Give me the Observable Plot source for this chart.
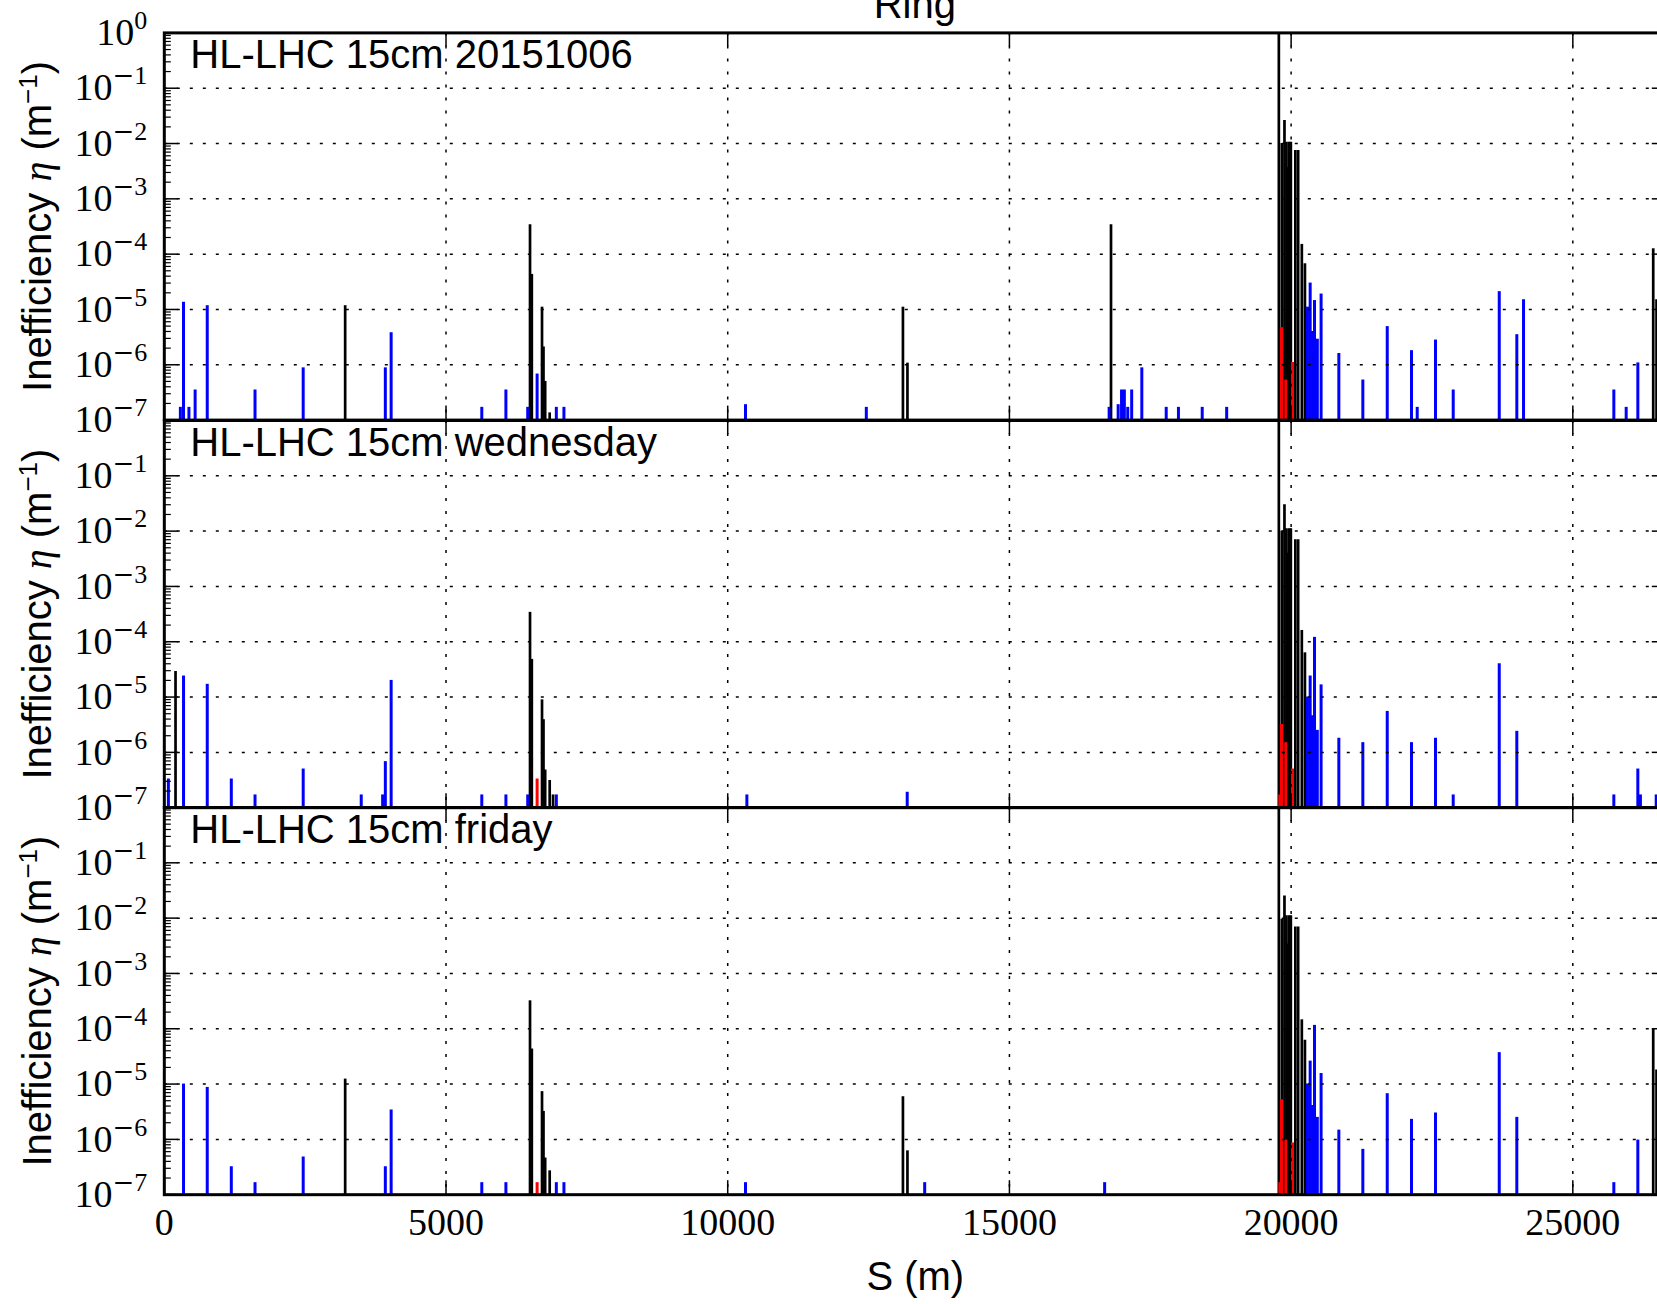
<!DOCTYPE html>
<html>
<head>
<meta charset="utf-8">
<script src="https://cdn.jsdelivr.net/npm/d3@7"></script>
<script src="https://cdn.jsdelivr.net/npm/@observablehq/plot@0.6"></script>
<style>
  html, body { margin: 0; padding: 0; overflow: hidden; background: #fff; }
  #wrap { position: relative; width: 1657px; height: 1304px; overflow: hidden; background: #fff; }
  #wrap svg { position: absolute; left: 0; }
  #title { position: absolute; top: -16px; left: 914.8px; transform: translateX(-50%);
           font-family: "Liberation Sans", Arial, sans-serif; font-size: 40px; line-height: 40px; white-space: nowrap; color: #000; }
</style>
</head>
<body>
<div id="wrap"><div id="title">Ring</div></div>
<script>
// ---------------- data ----------------
const TITLE = "Ring";
const X_LABEL = "S (m)";
const Y_LABEL = "Inefficiency η (m^-1)";
const PANEL_LABELS = ["HL-LHC 15cm 20151006", "HL-LHC 15cm wednesday", "HL-LHC 15cm friday"];
const S_DOMAIN = [0, 26658.88];
const ETA_DOMAIN = [1e-7, 1];
const S_TICKS = [0, 5000, 10000, 15000, 20000, 25000];
const ETA_TICKS = [1e-7, 1e-6, 1e-5, 1e-4, 1e-3, 1e-2, 1e-1, 1e0];

// [S (m), inefficiency] — collimators (black)
const coll_20151006 = [
  [3210, 1.17e-5],
  [6491, 3.4e-4], [6523, 4.3e-5], [6704, 1.1e-5], [6730, 2.1e-6], [6760, 5.0e-7], [6840, 1.35e-7],
  [13110, 1.1e-5], [13190, 1.07e-6],
  [16803, 3.4e-4],
  [19782, 1.0], [19835, 1.0e-2], [19882, 2.6e-2], [19918, 1.05e-2], [19941, 3.7e-3], [19968, 1.05e-2],
  [19995, 1.05e-2], [20075, 7.5e-3], [20125, 7.5e-3], [20190, 1.5e-4], [20245, 6.7e-5],
  [26427, 1.25e-4], [26486, 1.5e-5]
];
// cold losses (blue)
const cold_20151006 = [
  [285, 1.7e-7], [341, 1.35e-5], [437, 1.7e-7], [547, 3.5e-7], [762, 1.17e-5], [1610, 3.5e-7],
  [2465, 8.8e-7], [3923, 8.8e-7], [4026, 3.8e-6], [5635, 1.7e-7], [6063, 3.5e-7], [6450, 1.7e-7],
  [6617, 6.8e-7], [6958, 1.7e-7], [7093, 1.7e-7], [10316, 1.9e-7], [12460, 1.7e-7],
  [16770, 1.7e-7], [16930, 1.9e-7], [16990, 3.5e-7], [17040, 3.5e-7], [17100, 1.7e-7], [17170, 3.5e-7],
  [17350, 8.8e-7], [17783, 1.7e-7], [18000, 1.7e-7], [18422, 1.7e-7], [18856, 1.7e-7],
  [20290, 1.1e-5], [20338, 3.0e-5], [20380, 4.0e-6], [20415, 1.45e-5], [20465, 2.9e-6], [20532, 1.9e-5],
  [20847, 1.6e-6], [21273, 5.3e-7], [21706, 4.9e-6], [22137, 1.8e-6], [22238, 1.7e-7], [22563, 2.8e-6],
  [22877, 3.5e-7], [23694, 2.1e-5], [24006, 3.5e-6], [24125, 1.5e-5], [25728, 3.5e-7], [25947, 1.7e-7],
  [26154, 1.08e-6]
];
// warm losses (red)
const warm_20151006 = [
  [19830, 4.7e-6], [19905, 5.3e-7], [20025, 1.1e-6]
];

const coll_wednesday = [
  [199, 2.9e-5],
  [6491, 3.4e-4], [6523, 4.8e-5], [6704, 8.9e-6], [6730, 3.9e-6], [6760, 4.8e-7], [6840, 3.1e-7], [6900, 1.7e-7],
  [19782, 1.0], [19835, 1.0e-2], [19882, 3.0e-2], [19918, 1.1e-2], [19941, 4.0e-3], [19968, 1.1e-2],
  [19995, 1.1e-2], [20075, 7.0e-3], [20125, 7.0e-3], [20190, 1.6e-4], [20245, 6.3e-5]
];
const cold_wednesday = [
  [72, 3.3e-7], [341, 2.4e-5], [762, 1.7e-5], [1189, 3.3e-7], [1610, 1.7e-7], [2465, 5.0e-7],
  [3495, 1.7e-7], [3875, 1.7e-7], [3923, 6.8e-7], [4026, 2.0e-5], [5635, 1.7e-7], [6063, 1.7e-7],
  [6450, 1.7e-7], [6958, 1.7e-7], [10340, 1.7e-7], [13186, 1.9e-7],
  [20290, 1.0e-5], [20338, 2.4e-5], [20380, 4.6e-6], [20415, 1.2e-4], [20465, 2.5e-6], [20532, 1.66e-5],
  [20847, 1.8e-6], [21273, 1.5e-6], [21706, 5.5e-6], [22137, 1.5e-6], [22563, 1.8e-6], [22877, 1.7e-7],
  [23694, 4.0e-5], [24006, 2.4e-6], [25728, 1.7e-7], [26154, 5.0e-7], [26200, 1.7e-7], [26480, 1.7e-7]
];
const warm_wednesday = [
  [6617, 3.3e-7], [19800, 1.7e-7], [19830, 3.2e-6], [19905, 1.5e-6], [20025, 5.0e-7]
];

const coll_friday = [
  [3210, 1.23e-5],
  [6491, 3.2e-4], [6523, 4.3e-5], [6704, 7.3e-6], [6730, 3.2e-6], [6760, 4.6e-7], [6840, 2.7e-7],
  [13110, 5.9e-6], [13190, 6.2e-7],
  [19782, 1.0], [19835, 9.5e-3], [19882, 2.5e-2], [19918, 1.1e-2], [19941, 3.4e-3], [19968, 1.1e-2],
  [19995, 1.1e-2], [20075, 6.9e-3], [20125, 6.9e-3], [20190, 1.45e-4], [20245, 6.2e-5],
  [26427, 1.0e-4], [26486, 1.8e-5]
];
const cold_friday = [
  [341, 1.0e-5], [762, 8.7e-6], [1189, 3.2e-7], [1610, 1.65e-7], [2465, 4.8e-7], [3923, 3.2e-7],
  [4026, 3.4e-6], [5635, 1.65e-7], [6063, 1.65e-7], [6958, 1.65e-7], [7093, 1.65e-7], [10316, 1.65e-7],
  [13496, 1.65e-7], [16690, 1.65e-7],
  [20290, 1.0e-5], [20338, 2.6e-5], [20380, 4.1e-6], [20415, 1.15e-4], [20465, 2.5e-6], [20532, 1.55e-5],
  [20847, 1.47e-6], [21273, 6.6e-7], [21706, 6.7e-6], [22137, 2.3e-6], [22563, 3.0e-6], [23694, 3.7e-5],
  [24006, 2.5e-6], [25728, 1.65e-7], [26154, 9.7e-7]
];
const warm_friday = [
  [6617, 1.65e-7], [19800, 1.65e-7], [19830, 5.2e-6], [19905, 9.7e-7], [20025, 8.6e-7]
];

// ---------------- layout ----------------
const SANS = "'Liberation Sans', Arial, Helvetica, sans-serif";
const SERIF = "'Liberation Serif', 'Times New Roman', serif";
const ML = 163.8, MR = 30.2, INNER_W = 1502, INNER_H = 387.2;
const WIDTH = ML + INNER_W + MR;
const NS = "http://www.w3.org/2000/svg";

const minorTicks = [];
for (let k = -7; k < 0; k++) for (let m = 2; m <= 9; m++) minorTicks.push(m * Math.pow(10, k));

function rows(arr) { return arr.map(([s, v]) => ({s, v})); }

function makePanel(idx, coll, cold, warm, mt, mb, top, withX) {
  const yTicks = idx === 0 ? ETA_TICKS : ETA_TICKS.filter(d => d < 1);
  const dash = {stroke: "black", strokeWidth: 1.5, strokeDasharray: "3,10"};
  const marks = [
    Plot.ruleX(rows(coll), {x: "s", y1: ETA_DOMAIN[0], y2: "v", stroke: "black", strokeWidth: 2.7}),
    Plot.ruleX(rows(cold), {x: "s", y1: ETA_DOMAIN[0], y2: "v", stroke: "#0000ff", strokeWidth: 3}),
    Plot.ruleX(rows(warm), {x: "s", y1: ETA_DOMAIN[0], y2: "v", stroke: "#ff0000", strokeWidth: 3}),
    Plot.ruleY(ETA_TICKS.filter(d => d > ETA_DOMAIN[0] && d < ETA_DOMAIN[1]), {y: d => d, ...dash}),
    Plot.ruleX(S_TICKS.filter(d => d > 0), {x: d => d, ...dash}),
    Plot.tickX(S_TICKS, {x: d => d, insetTop: INNER_H - 14, stroke: "black", strokeWidth: 1.5}),
    Plot.tickX(S_TICKS, {x: d => d, insetBottom: INNER_H - 14, stroke: "black", strokeWidth: 1.5}),
    Plot.tickY(ETA_TICKS, {y: d => d, insetRight: INNER_W - 14, stroke: "black", strokeWidth: 1.5}),
    Plot.tickY(minorTicks, {y: d => d, insetRight: INNER_W - 7, stroke: "black", strokeWidth: 1.2}),
    Plot.tickY(ETA_TICKS, {y: d => d, insetLeft: INNER_W - 14, stroke: "black", strokeWidth: 1.5}),
    Plot.tickY(minorTicks, {y: d => d, insetLeft: INNER_W - 7, stroke: "black", strokeWidth: 1.2}),
    Plot.frame({stroke: "black", strokeWidth: 3}),
    Plot.axisY(yTicks, {anchor: "left", tickSize: 0, tickPadding: 17, label: null,
      tickFormat: d => "10^" + Math.round(Math.log10(d)), fontSize: 38, fontFamily: SERIF, fill: "black"}),
    Plot.text([PANEL_LABELS[idx]], {frameAnchor: "top-left", text: d => d, dx: 26, dy: 7, lineAnchor: "top",
      textAnchor: "start", fontSize: 40, fontFamily: SANS, fill: "black"}),
    Plot.text([Y_LABEL], {frameAnchor: "left", text: d => d, rotate: -90, dx: -126.6, lineAnchor: "middle",
      textAnchor: "middle", fontSize: 40, fontFamily: SANS, fill: "black"})
  ];
  if (withX) {
    marks.push(Plot.axisX(S_TICKS, {anchor: "bottom", tickSize: 0, tickPadding: 13, label: null,
      tickFormat: d => String(d), fontSize: 38, fontFamily: SERIF, fill: "black"}));
    marks.push(Plot.text([X_LABEL], {frameAnchor: "bottom", text: d => d, dy: 82, lineAnchor: "middle",
      textAnchor: "middle", fontSize: 40, fontFamily: SANS, fill: "black"}));
  }
  const svg = Plot.plot({
    width: WIDTH,
    height: mt + INNER_H + mb,
    marginLeft: ML, marginRight: MR, marginTop: mt, marginBottom: mb,
    style: {background: "transparent", overflow: "visible", maxWidth: "none", color: "black"},
    x: {type: "linear", domain: S_DOMAIN, ...(withX ? {} : {axis: null})},
    y: {type: "log", domain: ETA_DOMAIN},
    marks
  });
  svg.style.top = top + "px";
  svg.style.position = "absolute";
  svg.style.left = "0px";
  svg.style.width = WIDTH + "px";
  svg.style.height = (mt + INNER_H + mb) + "px";
  // superscripts for log tick labels
  svg.querySelectorAll("text").forEach(t => {
    const m = /^10\^(-?\d+)$/.exec(t.textContent);
    if (m) {
      const neg = m[1].startsWith("-");
      const digits = m[1].replace("-", "");
      t.textContent = "";
      const a = document.createElementNS(NS, "tspan"); a.textContent = "10"; t.appendChild(a);
      const b = document.createElementNS(NS, "tspan");
      b.setAttribute("dy", "-16"); b.setAttribute("font-size", "26");
      if (neg) {
        const mi = document.createElementNS(NS, "tspan");
        mi.setAttribute("font-family", "'DejaVu Serif', serif"); mi.textContent = "\u2212";
        b.appendChild(mi);
      }
      const dg = document.createElementNS(NS, "tspan"); dg.textContent = digits; b.appendChild(dg);
      t.appendChild(b);
      return;
    }
    if (t.textContent === Y_LABEL) {
      t.textContent = "";
      const p1 = document.createElementNS(NS, "tspan"); p1.textContent = "Inefficiency "; t.appendChild(p1);
      const p2 = document.createElementNS(NS, "tspan"); p2.textContent = "η";
      p2.setAttribute("font-family", SERIF); p2.setAttribute("font-style", "italic"); t.appendChild(p2);
      const p3 = document.createElementNS(NS, "tspan"); p3.textContent = " (m"; t.appendChild(p3);
      const p4 = document.createElementNS(NS, "tspan"); p4.textContent = "\u22121";
      p4.setAttribute("dy", "-14"); p4.setAttribute("font-size", "26"); t.appendChild(p4);
      const p5 = document.createElementNS(NS, "tspan"); p5.textContent = ")"; p5.setAttribute("dy", "14"); t.appendChild(p5);
    }
  });
  return svg;
}

const wrap = document.getElementById("wrap");
document.getElementById("title").textContent = TITLE;
const FRAME_TOPS = [32.4, 32.4 + INNER_H, 32.4 + 2 * INNER_H];
wrap.appendChild(makePanel(0, coll_20151006, cold_20151006, warm_20151006, 32.4, 20, FRAME_TOPS[0] - 32.4, false));
wrap.appendChild(makePanel(1, coll_wednesday, cold_wednesday, warm_wednesday, 30, 20, FRAME_TOPS[1] - 30, false));
wrap.appendChild(makePanel(2, coll_friday, cold_friday, warm_friday, 30, 110, FRAME_TOPS[2] - 30, true));
</script>
</body>
</html>
